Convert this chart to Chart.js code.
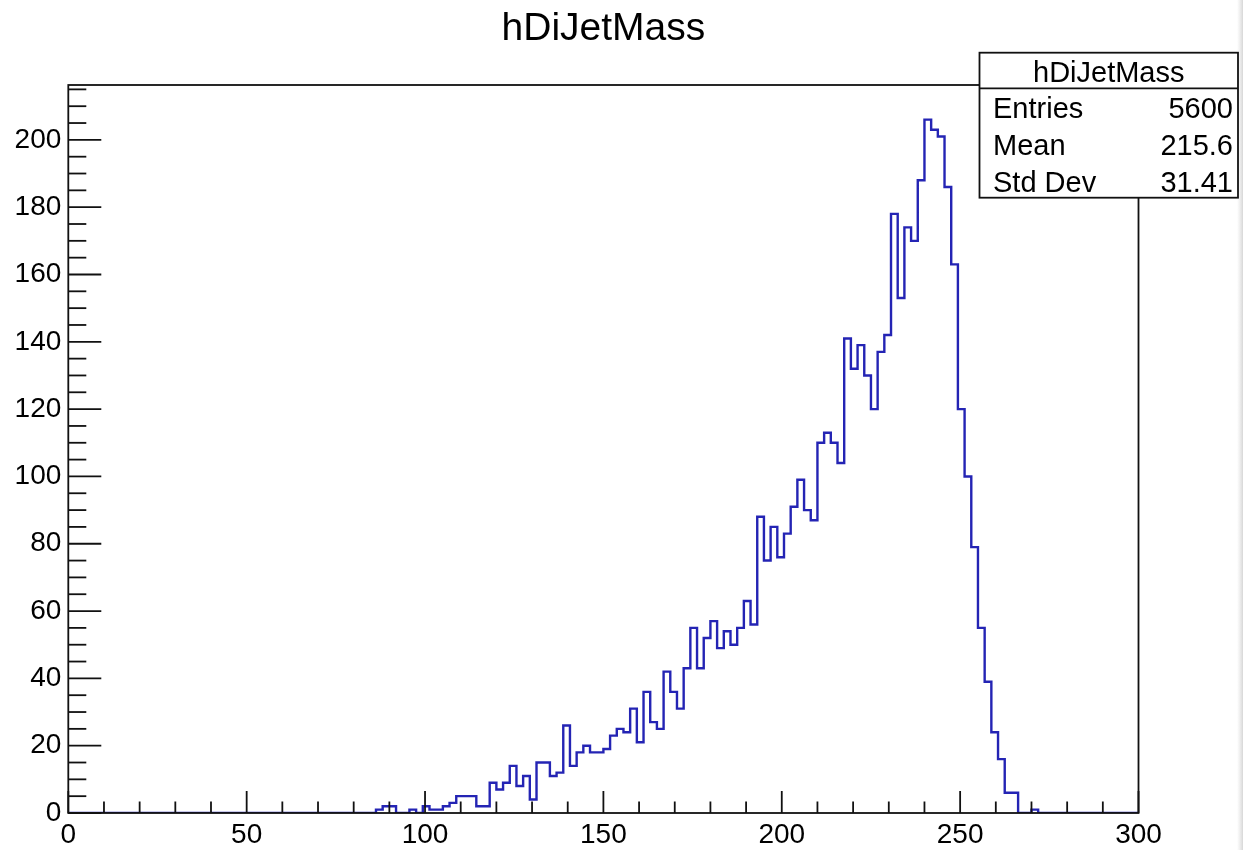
<!DOCTYPE html>
<html>
<head>
<meta charset="utf-8">
<title>hDiJetMass</title>
<script src="https://cdn.jsdelivr.net/npm/chart.js@4.4.1/dist/chart.umd.min.js"></script>
<style>
  html, body { margin: 0; padding: 0; background: #fff; }
  #wrap { width: 1243px; height: 850px; }
</style>
</head>
<body>
<div id="wrap"><canvas id="histo" width="1243" height="850"></canvas></div>
<script>
// hDiJetMass histogram, 160 bins between 0 and 300
const histName = "hDiJetMass";
const xMin = 0;
const xMax = 300;
const nBins = 160;

const binCounts = [
  0, 0, 0, 0, 0, 0, 0, 0, 0, 0, 0, 0, 0, 0, 0, 0,
  0, 0, 0, 0, 0, 0, 0, 0, 0, 0, 0, 0, 0, 0, 0, 0,
  0, 0, 0, 0, 0, 0, 0, 0, 0, 0, 0, 0, 0, 0, 1, 2,
  2, 0, 0, 1, 0, 2, 1, 1, 2, 3, 5, 5, 5, 2, 2, 9,
  7, 9, 14, 8, 11, 4, 15, 15, 11, 12, 26, 14, 18, 20, 18, 18,
  19, 23, 25, 24, 31, 21, 36, 27, 25, 42, 36, 31, 43, 55, 43, 52,
  57, 49, 54, 50, 55, 63, 56, 88, 75, 85, 76, 83, 91, 99, 90, 87,
  110, 113, 110, 104, 141, 132, 139, 130, 120, 137, 142, 178, 153, 174, 170, 188,
  206, 203, 201, 186, 163, 120, 100, 79, 55, 39, 24, 16, 6, 6, 0, 0,
  1, 0, 0, 0, 0, 0, 0, 0, 0, 0, 0, 0, 0, 0, 0, 0
];

const xTickStep = 50;
const xMinorStep = 10;
const yTickStep = 20;
const yMinorStep = 5;
const yMax = 216.3;

const statLabels = ["Entries", "Mean", "Std Dev"];
const statValues = ["5600", "215.6", "31.41"];

const FONT = "'Liberation Sans', Arial, Helvetica, sans-serif";

// left edge of every bin, plus the closing edge
const binWidth = (xMax - xMin) / nBins;
const points = binCounts.map((c, i) => ({ x: xMin + i * binWidth, y: c }));
points.push({ x: xMax, y: 0 });

function line(ctx, x1, y1, x2, y2) {
  ctx.beginPath();
  ctx.moveTo(x1, y1);
  ctx.lineTo(x2, y2);
  ctx.stroke();
}

const rootFrame = {
  id: "rootFrame",
  beforeDraw(chart) {
    // faint grey band on the right edge of the screenshot
    const { ctx, width, height } = chart;
    const g = ctx.createLinearGradient(width - 6, 0, width, 0);
    g.addColorStop(0, "rgba(225,225,225,0)");
    g.addColorStop(1, "rgba(215,215,215,1)");
    ctx.save();
    ctx.fillStyle = g;
    ctx.fillRect(width - 6, 0, 6, height);
    ctx.restore();
  },
  afterDatasetsDraw(chart) {
    const { ctx, chartArea: a, scales } = chart;
    const x = scales.x, y = scales.y;
    ctx.save();
    ctx.strokeStyle = "#111";
    ctx.lineWidth = 1.8;
    ctx.strokeRect(a.left, a.top, a.right - a.left, a.bottom - a.top);

    // ticks point inwards, like ROOT
    for (let v = xMin; v <= xMax + 0.001; v += xMinorStep) {
      const px = x.getPixelForValue(v);
      const len = v % xTickStep === 0 ? 22 : 11.5;
      line(ctx, px, a.bottom, px, a.bottom - len);
    }
    for (let v = 0; v <= yMax; v += yMinorStep) {
      const py = y.getPixelForValue(v);
      const len = v % yTickStep === 0 ? 33 : 18;
      line(ctx, a.left, py, a.left + len, py);
    }
    ctx.restore();
  },
  afterDraw(chart) {
    const { ctx, chartArea: a } = chart;
    ctx.save();

    // title
    ctx.fillStyle = "#000";
    ctx.font = "39px " + FONT;
    ctx.textAlign = "center";
    ctx.textBaseline = "alphabetic";
    ctx.fillText(histName, (a.left + a.right) / 2, 40);

    // stats box
    const bx = 979.5, by = 52.7, bw = 1238 - 979.5, bh = 197.7 - 52.7;
    ctx.fillStyle = "#fff";
    ctx.fillRect(bx, by, bw, bh);
    ctx.strokeStyle = "#111";
    ctx.lineWidth = 1.8;
    ctx.strokeRect(bx, by, bw, bh);
    line(ctx, bx, 88.3, bx + bw, 88.3);

    ctx.fillStyle = "#000";
    ctx.font = "29px " + FONT;
    ctx.fillText(histName, bx + bw / 2, 81.5);
    const rows = [118.3, 155, 191.7];
    statLabels.forEach((lab, i) => {
      ctx.textAlign = "left";
      ctx.fillText(lab, 993, rows[i]);
      ctx.textAlign = "right";
      ctx.fillText(statValues[i], 1233, rows[i]);
    });
    ctx.restore();
  }
};

const ctx = document.getElementById("histo").getContext("2d");

new Chart(ctx, {
  type: "line",
  data: {
    datasets: [
      {
        label: histName,
        data: points,
        stepped: true,
        borderColor: "#2424b4",
        borderWidth: 2.4,
        pointRadius: 0,
        fill: false,
        tension: 0
      }
    ]
  },
  options: {
    responsive: false,
    animation: false,
    devicePixelRatio: 1,
    layout: {
      padding: { top: 85, right: 104.5, left: 0, bottom: 0 }
    },
    plugins: {
      legend: { display: false },
      title: { display: false },
      tooltip: { enabled: false }
    },
    scales: {
      x: {
        type: "linear",
        min: xMin,
        max: xMax,
        grid: { display: false, drawTicks: false },
        border: { display: false },
        ticks: {
          stepSize: xTickStep,
          autoSkip: false,
          maxRotation: 0,
          padding: 5,
          color: "#000",
          font: { family: FONT, size: 28 }
        },
        afterFit(scale) { scale.height = 37; }
      },
      y: {
        type: "linear",
        min: 0,
        max: yMax,
        grid: { display: false, drawTicks: false },
        border: { display: false },
        ticks: {
          stepSize: yTickStep,
          includeBounds: false,
          padding: 7,
          color: "#000",
          font: { family: FONT, size: 28 }
        },
        afterFit(scale) { scale.width = 68.3; }
      }
    }
  },
  plugins: [rootFrame]
});
</script>
</body>
</html>
